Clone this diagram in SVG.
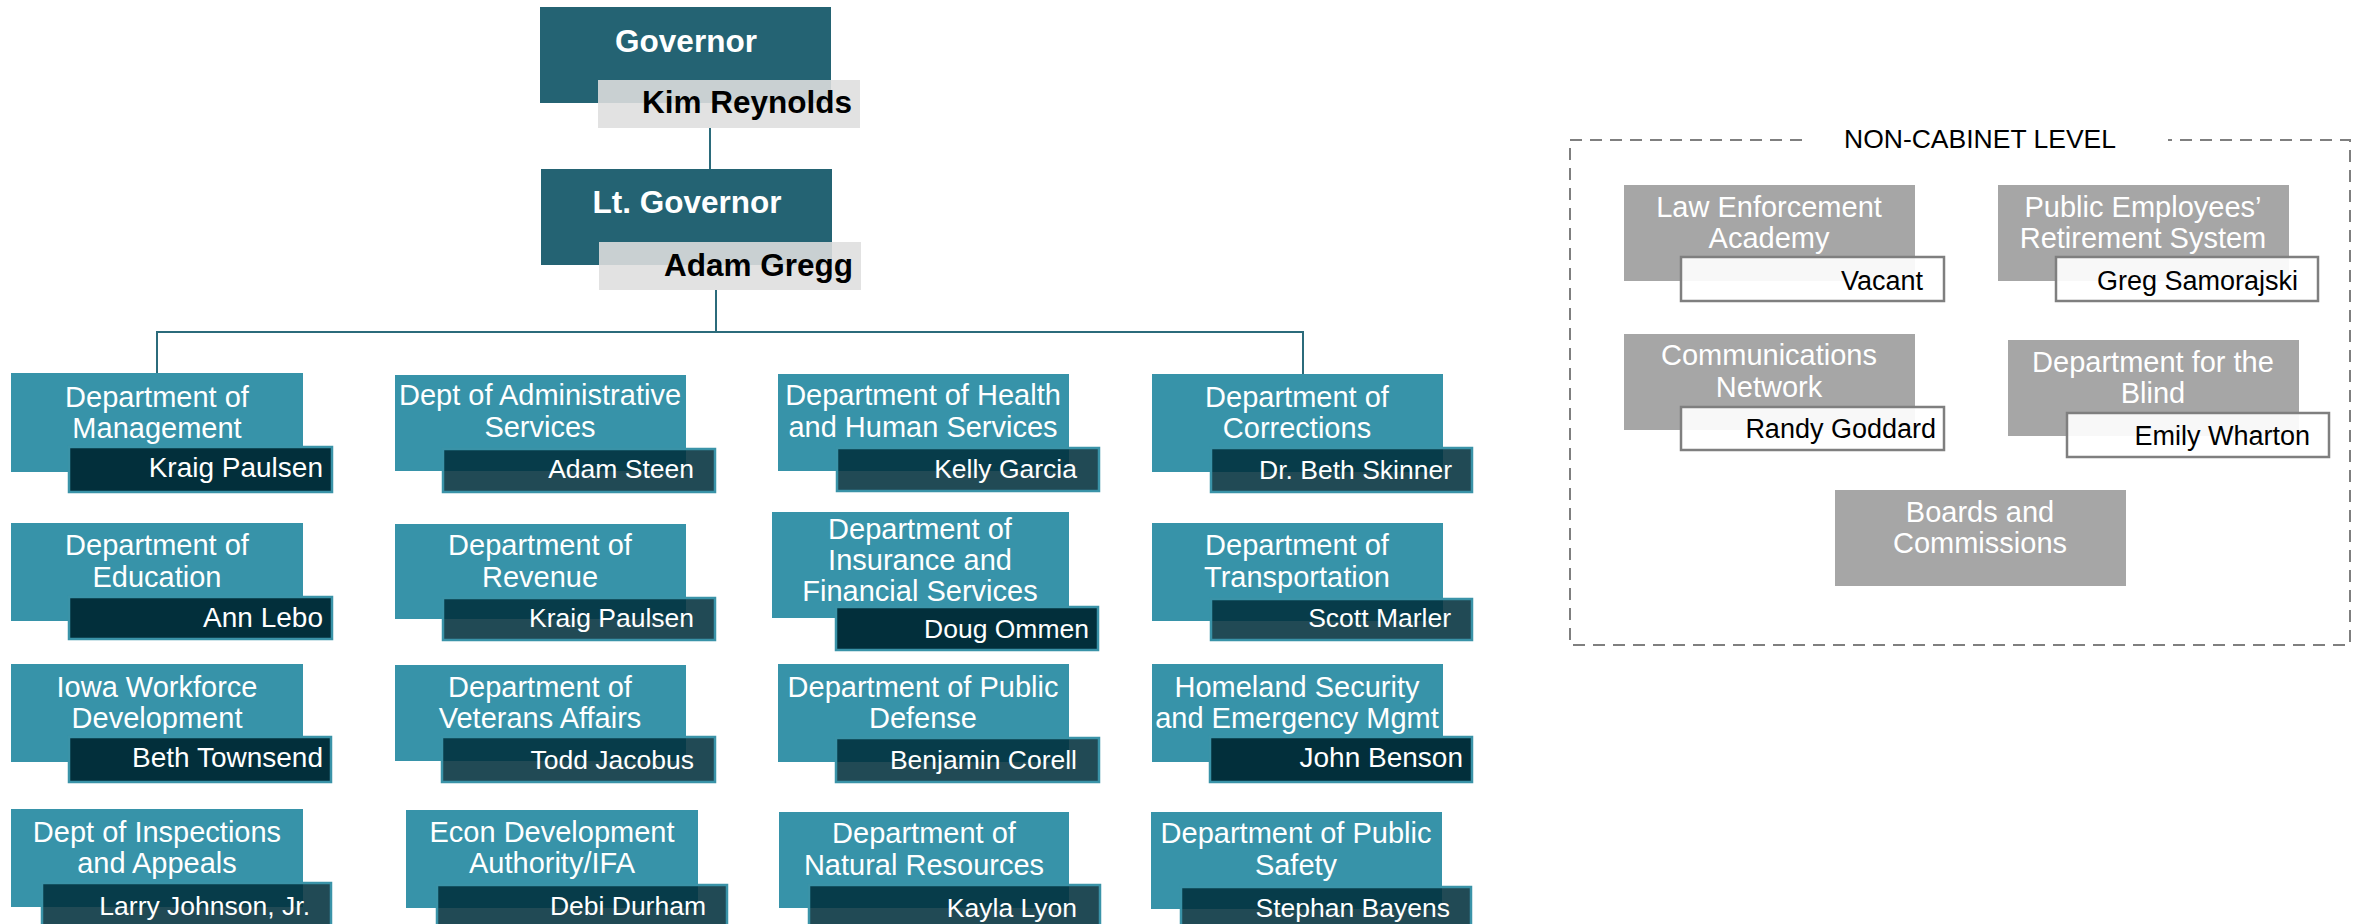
<svg xmlns="http://www.w3.org/2000/svg" width="2364" height="924" viewBox="0 0 2364 924">
<style>
text{font-family:"Liberation Sans",Arial,sans-serif}
.gov{fill:#246373}
.govn{fill:#dedede;fill-opacity:0.886}
.gt{font-weight:bold;font-size:31.5px;fill:#fff;text-anchor:middle}
.gn{font-weight:bold;font-size:31.5px;fill:#000;text-anchor:end}
.dept{fill:#3793a9}
.nm{fill:#022f3b;stroke:#3a93a8;stroke-width:2.5}
.nmt{fill:#002f3c;fill-opacity:0.87;stroke:#3a93a8;stroke-width:2.5}
.t{font-size:29px;fill:#fff;text-anchor:middle}
.n{font-size:28px;fill:#fff;text-anchor:end}
.ns{font-size:26.5px;fill:#fff;text-anchor:end}
.ncl{fill:#a6a6a6}
.ncln{fill:#fff;fill-opacity:0.92;stroke:#7f7f7f;stroke-width:2.5}
.nn{font-size:27px;fill:#000;text-anchor:end}
.conn{stroke:#2b6b7b;stroke-width:2;fill:none}
.dash{stroke:#7f7f7f;stroke-width:2;fill:none;stroke-dasharray:12 8}
</style>
<rect width="2364" height="924" fill="#fff"/>
<g id="connectors">
<path class="conn" d="M710,128 V169"/>
<path class="conn" d="M716,290 V332"/>
<path class="conn" d="M157,376 V332 H1303 V376"/>
</g>
<g id="governor">
<rect class="gov" x="540" y="7" width="291" height="96"/>
<rect class="govn" x="598" y="80" width="262" height="48"/>
<text class="gt" x="686" y="52">Governor</text>
<text class="gn" x="852" y="113">Kim Reynolds</text>
</g>
<g id="lt-governor">
<rect class="gov" x="541" y="169" width="291" height="96"/>
<rect class="govn" x="599" y="242" width="262" height="48"/>
<text class="gt" x="687" y="213">Lt. Governor</text>
<text class="gn" x="853" y="276">Adam Gregg</text>
</g>
<g id="dept-management">
<rect class="dept" x="11" y="373" width="292" height="99"/>
<rect class="nm" x="69" y="447" width="263" height="45"/>
<text class="t" x="157" y="407">Department of</text>
<text class="t" x="157" y="438">Management</text>
<text class="n" x="323" y="477">Kraig Paulsen</text>
</g>
<g id="dept-admin">
<rect class="dept" x="395" y="375" width="291" height="96"/>
<rect class="nmt" x="443" y="449" width="272" height="43"/>
<text class="t" x="540" y="405">Dept of Administrative</text>
<text class="t" x="540" y="437">Services</text>
<text class="ns" x="694" y="478">Adam Steen</text>
</g>
<g id="dept-health">
<rect class="dept" x="778" y="374" width="291" height="97"/>
<rect class="nmt" x="837" y="448" width="262" height="43"/>
<text class="t" x="923" y="405">Department of Health</text>
<text class="t" x="923" y="437">and Human Services</text>
<text class="ns" x="1077" y="478">Kelly Garcia</text>
</g>
<g id="dept-corrections">
<rect class="dept" x="1152" y="374" width="291" height="98"/>
<rect class="nmt" x="1211" y="448" width="261" height="44"/>
<text class="t" x="1297" y="407">Department of</text>
<text class="t" x="1297" y="438">Corrections</text>
<text class="ns" x="1452" y="479">Dr. Beth Skinner</text>
</g>
<g id="dept-education">
<rect class="dept" x="11" y="523" width="292" height="98"/>
<rect class="nm" x="69" y="597" width="263" height="42"/>
<text class="t" x="157" y="555">Department of</text>
<text class="t" x="157" y="587">Education</text>
<text class="n" x="323" y="627">Ann Lebo</text>
</g>
<g id="dept-revenue">
<rect class="dept" x="395" y="524" width="291" height="95"/>
<rect class="nmt" x="443" y="598" width="272" height="42"/>
<text class="t" x="540" y="555">Department of</text>
<text class="t" x="540" y="587">Revenue</text>
<text class="ns" x="694" y="627">Kraig Paulsen</text>
</g>
<g id="dept-insurance">
<rect class="dept" x="772" y="512" width="297" height="106"/>
<rect class="nm" x="836" y="607" width="262" height="43"/>
<text class="t" x="920" y="539">Department of</text>
<text class="t" x="920" y="570">Insurance and</text>
<text class="t" x="920" y="601">Financial Services</text>
<text class="ns" x="1089" y="638">Doug Ommen</text>
</g>
<g id="dept-transportation">
<rect class="dept" x="1152" y="523" width="291" height="98"/>
<rect class="nmt" x="1211" y="599" width="261" height="41"/>
<text class="t" x="1297" y="555">Department of</text>
<text class="t" x="1297" y="587">Transportation</text>
<text class="ns" x="1451" y="627">Scott Marler</text>
</g>
<g id="dept-workforce">
<rect class="dept" x="11" y="664" width="292" height="98"/>
<rect class="nm" x="69" y="737" width="262" height="45"/>
<text class="t" x="157" y="697">Iowa Workforce</text>
<text class="t" x="157" y="728">Development</text>
<text class="n" x="323" y="767">Beth Townsend</text>
</g>
<g id="dept-veterans">
<rect class="dept" x="395" y="665" width="291" height="96"/>
<rect class="nmt" x="442" y="737" width="273" height="45"/>
<text class="t" x="540" y="697">Department of</text>
<text class="t" x="540" y="728">Veterans Affairs</text>
<text class="ns" x="694" y="769">Todd Jacobus</text>
</g>
<g id="dept-defense">
<rect class="dept" x="778" y="664" width="291" height="98"/>
<rect class="nmt" x="836" y="738" width="263" height="44"/>
<text class="t" x="923" y="697">Department of Public</text>
<text class="t" x="923" y="728">Defense</text>
<text class="ns" x="1077" y="769">Benjamin Corell</text>
</g>
<g id="dept-homeland">
<rect class="dept" x="1152" y="664" width="291" height="98"/>
<rect class="nm" x="1210" y="737" width="262" height="45"/>
<text class="t" x="1297" y="697">Homeland Security</text>
<text class="t" x="1297" y="728">and Emergency Mgmt</text>
<text class="n" x="1463" y="767">John Benson</text>
</g>
<g id="dept-inspections">
<rect class="dept" x="11" y="809" width="292" height="98"/>
<rect class="nmt" x="42" y="883" width="289" height="46"/>
<text class="t" x="157" y="842">Dept of Inspections</text>
<text class="t" x="157" y="873">and Appeals</text>
<text class="ns" x="310" y="915">Larry Johnson, Jr.</text>
</g>
<g id="dept-econ">
<rect class="dept" x="406" y="810" width="292" height="98"/>
<rect class="nmt" x="437" y="885" width="290" height="46"/>
<text class="t" x="552" y="842">Econ Development</text>
<text class="t" x="552" y="873">Authority/IFA</text>
<text class="ns" x="706" y="915">Debi Durham</text>
</g>
<g id="dept-natural">
<rect class="dept" x="779" y="812" width="290" height="96"/>
<rect class="nmt" x="809" y="885" width="291" height="46"/>
<text class="t" x="924" y="843">Department of</text>
<text class="t" x="924" y="875">Natural Resources</text>
<text class="ns" x="1077" y="917">Kayla Lyon</text>
</g>
<g id="dept-safety">
<rect class="dept" x="1151" y="812" width="291" height="97"/>
<rect class="nmt" x="1181" y="887" width="290" height="44"/>
<text class="t" x="1296" y="843">Department of Public</text>
<text class="t" x="1296" y="875">Safety</text>
<text class="ns" x="1450" y="917">Stephan Bayens</text>
</g>
<g id="non-cabinet">
<path class="dash" d="M1802,140 H1570 V645 H2350 V140 H2168"/>
<text x="1980" y="148" style="font-size:26.5px;fill:#000;text-anchor:middle">NON-CABINET LEVEL</text>
</g>
<g id="ncl-law">
<rect class="ncl" x="1624" y="185" width="291" height="96"/>
<rect class="ncln" x="1681" y="257" width="263" height="44"/>
<text class="t" x="1769" y="217">Law Enforcement</text>
<text class="t" x="1769" y="248">Academy</text>
<text class="nn" x="1923" y="290">Vacant</text>
</g>
<g id="ncl-ipers">
<rect class="ncl" x="1998" y="185" width="291" height="96"/>
<rect class="ncln" x="2056" y="257" width="262" height="44"/>
<text class="t" x="2143" y="217">Public Employees’</text>
<text class="t" x="2143" y="248">Retirement System</text>
<text class="nn" x="2298" y="290">Greg Samorajski</text>
</g>
<g id="ncl-comm">
<rect class="ncl" x="1624" y="334" width="291" height="96"/>
<rect class="ncln" x="1681" y="407" width="263" height="43"/>
<text class="t" x="1769" y="365">Communications</text>
<text class="t" x="1769" y="397">Network</text>
<text class="nn" x="1936" y="438">Randy Goddard</text>
</g>
<g id="ncl-blind">
<rect class="ncl" x="2008" y="340" width="291" height="96"/>
<rect class="ncln" x="2067" y="413" width="262" height="44"/>
<text class="t" x="2153" y="372">Department for the</text>
<text class="t" x="2153" y="403">Blind</text>
<text class="nn" x="2310" y="445">Emily Wharton</text>
</g>
<g id="ncl-boards">
<rect class="ncl" x="1835" y="490" width="291" height="96"/>
<text class="t" x="1980" y="522">Boards and</text>
<text class="t" x="1980" y="553">Commissions</text>
</g>
</svg>
